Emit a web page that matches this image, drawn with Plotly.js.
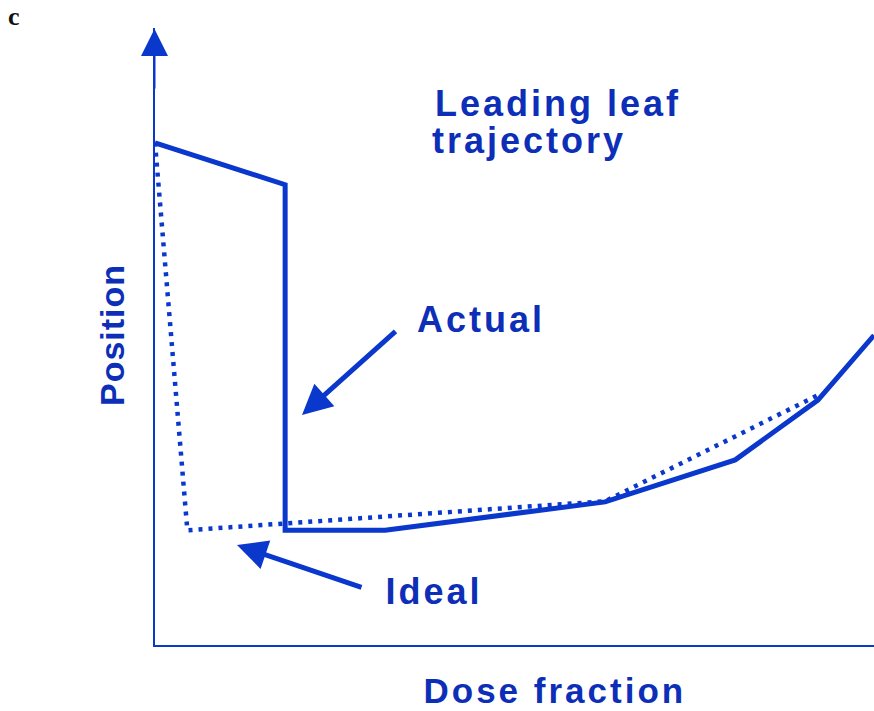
<!DOCTYPE html>
<html>
<head>
<meta charset="utf-8">
<script src="https://cdn.plot.ly/plotly-3.0.1.min.js"></script>
<style>
  html, body { margin: 0; padding: 0; background: #ffffff; }
  #chart { width: 874px; height: 711px; }
</style>
</head>
<body>
<div id="chart"></div>
<script>
// Dose fraction (x) and leaf position (y), both normalised 0..1
const actualDose = [0, 0.181, 0.181, 0.320, 0.626, 0.807, 0.922, 1.0];
const actualPos  = [0.814, 0.746, 0.186, 0.186, 0.232, 0.300, 0.397, 0.502];
const idealDose  = [0, 0.045, 0.626, 0.922];
const idealPos   = [0.814, 0.186, 0.233, 0.405];

const lineBlue = '#0a37cc';
const textBlue = '#0d2fb8';

// plot area: left 155, right 874, top 28, bottom 645 (pixels)
const L = 155, R = 874, T = 28, B = 645;
const px = x => (x - L) / (R - L);
const py = y => (B - y) / (B - T);

const boldFont = (s) => ({family: 'Liberation Sans, Arial, sans-serif', size: s, color: textBlue, weight: 'bold'});

function label(text, cx, cy, size, angle) {
  return {text: text, xref: 'paper', yref: 'paper', x: px(cx), y: py(cy),
          xanchor: 'center', yanchor: 'middle', showarrow: false,
          font: boldFont(size), textangle: angle || 0};
}
function arrow(tipX, tipY, tailX, tailY, w, s) {
  return {text: '', xref: 'paper', yref: 'paper', x: px(tipX), y: py(tipY),
          ax: tailX - tipX, ay: tailY - tipY, showarrow: true,
          arrowhead: 2, arrowwidth: w, arrowsize: s, arrowcolor: lineBlue,
          standoff: 0, startstandoff: 0};
}

const traces = [
  {x: idealDose, y: idealPos, mode: 'lines', name: 'Ideal',
   line: {color: lineBlue, width: 4.5, dash: '4px,6px'}, hoverinfo: 'skip'},
  {x: actualDose, y: actualPos, mode: 'lines', name: 'Actual',
   line: {color: lineBlue, width: 5}, hoverinfo: 'skip'}
];

const layout = {
  width: 874, height: 711,
  margin: {l: L, r: 874 - R, t: T, b: 711 - B, pad: 0},
  paper_bgcolor: '#ffffff', plot_bgcolor: '#ffffff',
  showlegend: false,
  xaxis: {range: [0, 1], showgrid: false, zeroline: false, showticklabels: false,
          ticks: '', showline: true, linecolor: lineBlue, linewidth: 2, fixedrange: true,
          title: {text: ''}},
  yaxis: {range: [0, 1], showgrid: false, zeroline: false, showticklabels: false,
          ticks: '', showline: true, linecolor: lineBlue, linewidth: 2, fixedrange: true,
          title: {text: ''}},
  annotations: [
    {text: 'c', xref: 'paper', yref: 'paper', x: px(14), y: py(16), xanchor: 'center', yanchor: 'middle',
     showarrow: false, font: {family: 'Liberation Serif, Times New Roman, serif', size: 26, color: '#111111', weight: 'bold'}},
    label('Leading leaf', 558, 103, 36),
    label('trajectory', 529, 141, 36),
    label('Actual', 481, 319, 36),
    label('Ideal', 434, 591, 36),
    label('Dose fraction', 555, 690, 35),
    label('Position', 112, 335, 34, -90),
    arrow(302, 415, 397, 330, 5, 1.2),
    arrow(237, 545, 363, 588, 5, 1.2),
    arrow(154.5, 29, 154.5, 90, 2, 2.7)
  ]
};

Plotly.newPlot('chart', traces, layout, {staticPlot: true, displayModeBar: false}).then(function () {
  document.querySelectorAll('.annotation-text').forEach(function (t) {
    const txt = t.textContent;
    if (txt === 'c' || txt === '') return;
    t.style.letterSpacing = (txt === 'Position') ? '1px' : '3px';
  });
});
</script>
</body>
</html>
